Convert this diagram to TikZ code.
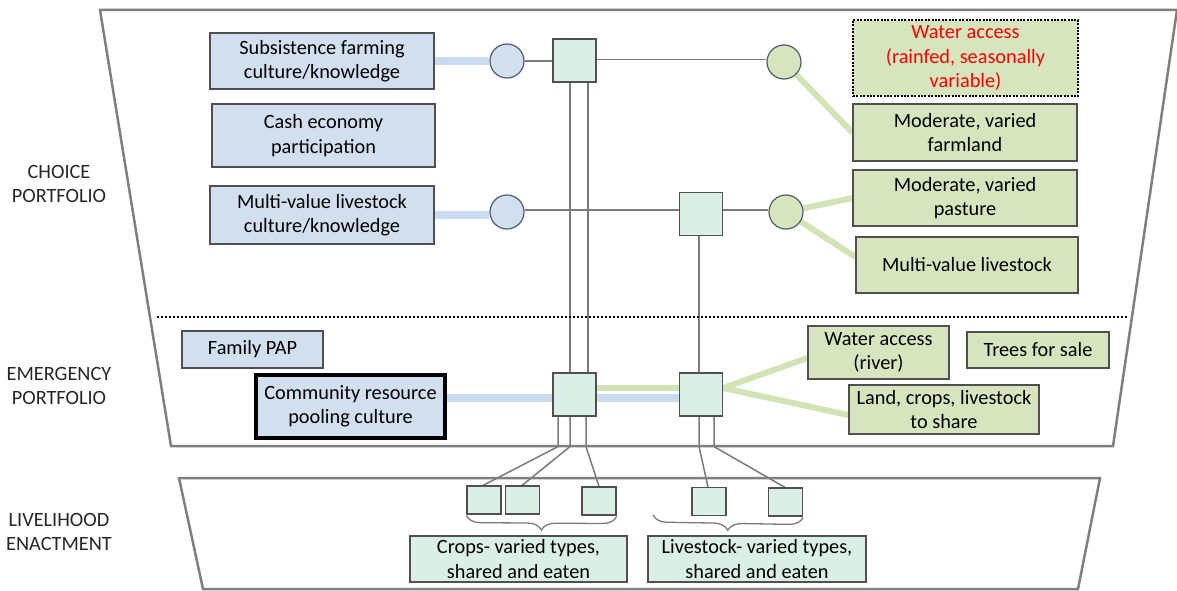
\documentclass[tikz,border=0pt]{standalone}
\usepackage{fontspec}
\setmainfont{Carlito}
\usetikzlibrary{decorations.pathreplacing,backgrounds}

\definecolor{boxblue}{HTML}{D2DFEF}
\definecolor{boxgreen}{HTML}{D6E5BD}
\definecolor{boxmint}{HTML}{DAEFE6}
\definecolor{linkblue}{HTML}{CADAEF}
\definecolor{linkgreen}{HTML}{D2E4B6}
\definecolor{edgegray}{HTML}{505050}
\definecolor{wiregray}{HTML}{7A7A7A}
\definecolor{framegray}{HTML}{7F7F7F}
\definecolor{circedge}{HTML}{4E5D6C}

\begin{document}
\begin{tikzpicture}[x=1pt,y=-1pt,
  every node/.style={font=\fontsize{20.3}{24.5}\selectfont, align=center, inner sep=0pt},
  bluebox/.style={draw=edgegray, fill=boxblue, line width=1.2pt},
  greenbox/.style={draw=edgegray, fill=boxgreen, line width=1.2pt},
  mintbox/.style={draw=edgegray, fill=boxmint, line width=1.2pt},
  hub/.style={draw=edgegray, fill=boxmint, line width=1.2pt, minimum size=43pt},
  leaf/.style={draw=edgegray, fill=boxmint, line width=1.2pt, minimum width=34pt, minimum height=28pt},
  bluedot/.style={circle, draw=circedge, fill=boxblue, line width=1.2pt, minimum size=34pt},
  greendot/.style={circle, draw=circedge, fill=boxgreen, line width=1.2pt, minimum size=34pt},
  wire/.style={draw=wiregray, line width=1.5pt},
  bluelink/.style={draw=linkblue, line width=8.5pt},
  greenlink/.style={draw=linkgreen, line width=6pt},
  frame/.style={draw=framegray, line width=2.5pt, line join=miter},
  bracket/.style={draw=wiregray, line width=1.3pt, decorate,
    decoration={brace, amplitude=14pt, aspect=0.5}},
  sidelabel/.style={text=black!85}
]
\useasboundingbox (0,0) rectangle (1177,591);

% portfolio frames
\draw[frame] (100,10) -- (1177,10) -- (1113,446) -- (171,446) -- cycle;
\draw[frame] (179,478) -- (1100,478) -- (1078,589) -- (203,589) -- cycle;
\draw[line width=1.6pt, dash pattern=on 1.6pt off 2.4pt] (157,317) -- (1128,317);

% row labels
\node[sidelabel] (lchoice) at (59,184) {CHOICE\\PORTFOLIO};
\node[sidelabel] (lemerg) at (59,386) {EMERGENCY\\PORTFOLIO};
\node[sidelabel] (llive) at (59,532) {LIVELIHOOD\\ENACTMENT};

% cultural resources
\node[bluebox, minimum width=224pt, minimum height=56pt] (subs) at (322,61) {Subsistence farming\\culture/knowledge};
\node[bluebox, minimum width=223pt, minimum height=63pt] (cash) at (323.5,135.5) {Cash economy\\participation};
\node[bluebox, minimum width=224pt, minimum height=58pt] (mvlc) at (322,215) {Multi-value livestock\\culture/knowledge};
\node[bluebox, minimum width=141pt, minimum height=37pt] (fpap) at (252.5,349.5) {Family PAP};
\node[bluebox, draw=black, line width=3.5pt, minimum width=189pt, minimum height=63pt] (comm) at (350.5,406.5) {Community resource\\pooling culture};

% material resources
\node[greenbox, draw=black, dash pattern=on 2pt off 1.4pt, line width=2pt, text=red, minimum width=225pt, minimum height=76pt] (wrain) at (965.5,58) {Water access\\(rainfed, seasonally\\variable)};
\node[greenbox, minimum width=224pt, minimum height=57pt] (farm) at (965,132.5) {Moderate, varied\\farmland};
\node[greenbox, minimum width=224pt, minimum height=56pt] (past) at (965,198) {Moderate, varied\\pasture};
\node[greenbox, minimum width=222pt, minimum height=56pt] (mvl) at (967,265) {Multi-value livestock};
\node[greenbox, minimum width=141pt, minimum height=53pt] (wriver) at (878.5,352.5) {Water access\\(river)};
\node[greenbox, minimum width=142pt, minimum height=36pt] (trees) at (1038,350) {Trees for sale};
\node[greenbox, minimum width=190pt, minimum height=49pt] (land) at (944,409.5) {Land, crops, livestock\\to share};

% junctions
\node[bluedot] (cb1) at (507,61) {};
\node[bluedot] (cb2) at (507,212) {};
\node[greendot] (cg1) at (784,62) {};
\node[greendot] (cg2) at (786,212) {};
\node[hub] (s1) at (574.5,60.5) {};
\node[hub] (s2) at (701,214) {};
\node[hub] (s3) at (574.5,394.5) {};
\node[hub] (s4) at (701,394.5) {};

% enactment
\node[leaf] (ka) at (484,500) {};
\node[leaf] (kb) at (522.5,500) {};
\node[leaf] (kc) at (599,501) {};
\node[leaf] (kd) at (709,501.5) {};
\node[leaf] (ke) at (785.5,502) {};
\node[mintbox, minimum width=217pt, minimum height=46pt] (crops) at (518.5,559) {Crops- varied types,\\shared and eaten};
\node[mintbox, minimum width=218pt, minimum height=46pt] (lvst) at (757,559) {Livestock- varied types,\\shared and eaten};

\begin{pgfonlayer}{background}
  % thick resource links
  \draw[bluelink] (subs.east) -- (cb1.west);
  \draw[bluelink] (mvlc.east) -- (mvlc.east -| cb2.west);
  \draw[bluelink] ([yshift=8.5pt]comm.east) -- ([yshift=-3.5pt]s3.west);
  \draw[bluelink] ([yshift=-3.5pt]s3.east) -- ([yshift=-3.5pt]s4.west);
  \draw[greenlink] ([yshift=6.5pt]s3.east) -- ([yshift=6.5pt]s4.west);
  \draw[greenlink] ([yshift=6.5pt]s4.east) -- ([yshift=-5.5pt]wriver.west);
  \draw[greenlink] ([yshift=6.5pt]s4.east) -- ([yshift=-5.5pt]land.west);
  \draw[greenlink] (cg1) -- (farm.west);
  \draw[greenlink] (cg2) -- (past.west);
  \draw[greenlink] (cg2) -- ([yshift=8pt]mvl.west);

  % strategy wires
  \draw[wire] (cb1.east) -- (cb1.east -| s1.west);
  \draw[wire] ([yshift=1pt]s1.east) -- ([yshift=1pt]s1.east -| cg1.west);
  \draw[wire] ([yshift=2pt]cb2.east) -- ([yshift=2pt]cb2.east -| s2.west);
  \draw[wire] ([yshift=4pt]s2.east) -- ([yshift=4pt]s2.east -| cg2.west);
  \draw[wire] ([xshift=-4.5pt]s1.south) -- ([xshift=-4.5pt]s3.north);
  \draw[wire] ([xshift=13.5pt]s1.south) -- ([xshift=13.5pt]s3.north);
  \draw[wire] ([xshift=-2pt]s2.south) -- ([xshift=-2pt]s4.north);

  % enactment wires
  \draw[wire] ([xshift=-16.5pt]s3.south) -- ++(0,30) -- ([xshift=-1pt]ka.north);
  \draw[wire] ([xshift=-4.5pt]s3.south) -- ++(0,30) -- ([xshift=-0.5pt]kb.north);
  \draw[wire] ([xshift=11.5pt]s3.south) -- ++(0,30) -- (kc.north);
  \draw[wire] ([xshift=-2pt]s4.south) -- ++(0,30) -- ([xshift=-1pt]kd.north);
  \draw[wire] ([xshift=13pt]s4.south) -- ++(0,30) -- ([xshift=-0.5pt]ke.north);
\end{pgfonlayer}

% groupings
\draw[bracket] ([yshift=-1pt]kc.south east) -- ([yshift=-1pt]ka.south west);
\draw[bracket] ([yshift=-1pt]ke.south east) -- (653,515);
\end{tikzpicture}
\end{document}
